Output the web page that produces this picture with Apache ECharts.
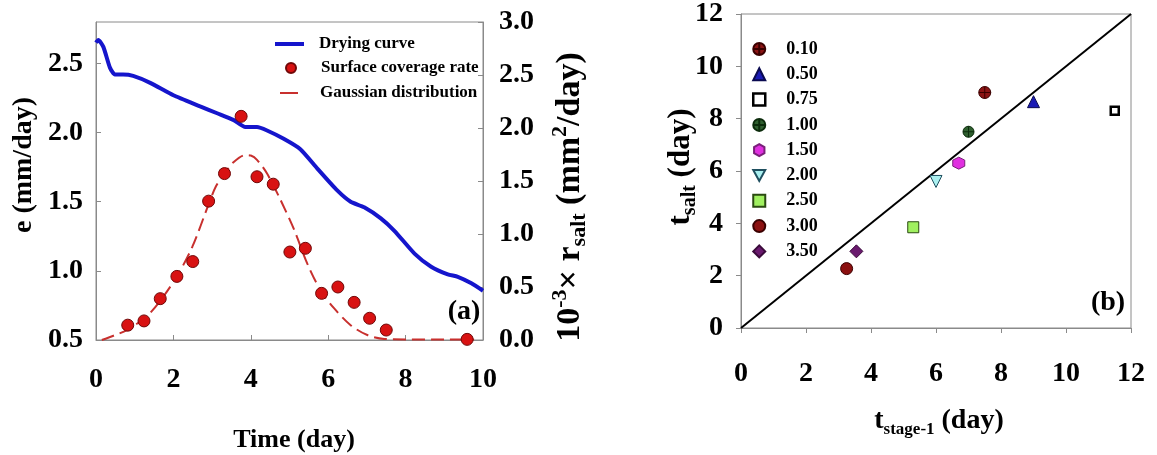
<!DOCTYPE html>
<html>
<head>
<meta charset="utf-8">
<script src="https://cdn.jsdelivr.net/npm/echarts@6/dist/echarts.min.js"></script>
<style>
  html, body { margin: 0; padding: 0; background: #fff; }
  #chart { width: 1157px; height: 455px; }
</style>
</head>
<body>
<div id="chart"></div>
<script>
// (a) Drying curve: evaporation rate e (mm/day) against time (day)
const dryTime = [0, 0.06, 0.19, 0.36, 0.49, 0.70, 0.96, 1.40, 2.00, 2.69, 3.13, 3.56, 3.86, 4.16, 4.42, 4.85, 5.28, 5.72, 6.24, 6.58, 6.93, 7.36, 7.71, 8.23, 8.66, 9.09, 9.35, 9.70, 10.0];
const dryRate = [2.65, 2.67, 2.62, 2.47, 2.42, 2.42, 2.41, 2.36, 2.27, 2.19, 2.14, 2.09, 2.04, 2.04, 2.015, 1.955, 1.88, 1.74, 1.58, 1.50, 1.46, 1.38, 1.29, 1.125, 1.03, 0.975, 0.957, 0.91, 0.856];

// (a) Surface coverage rate, 10^-3 x r_salt (mm^2/day)
const covTime = [0.82, 1.24, 1.66, 2.09, 2.50, 2.91, 3.32, 3.75, 4.16, 4.58, 5.01, 5.41, 5.83, 6.25, 6.67, 7.07, 7.50, 9.59];
const covRate = [0.14, 0.18, 0.39, 0.60, 0.74, 1.31, 1.57, 2.11, 1.54, 1.47, 0.83, 0.865, 0.44, 0.50, 0.355, 0.205, 0.094, 0.006];

// (a) Gaussian distribution fitted to the coverage rate
const gaussTime = [0.15, 0.45, 0.80, 1.30, 1.66, 2.09, 2.49, 2.91, 3.10, 3.32, 3.56, 3.86, 4.00, 4.16, 4.42, 4.77, 5.12, 5.46, 5.80, 6.15, 6.58, 7.01, 7.45, 8.00, 9.00, 9.77];
const gaussRate = [0.0, 0.04, 0.094, 0.22, 0.37, 0.60, 0.88, 1.28, 1.45, 1.57, 1.68, 1.745, 1.74, 1.70, 1.57, 1.32, 1.04, 0.72, 0.47, 0.30, 0.14, 0.047, 0.01, 0.005, 0.005, 0.005];

// (b) t_salt against t_stage-1 for each salt concentration
const concLabels = ['0.10', '0.50', '0.75', '1.00', '1.50', '2.00', '2.50', '3.00', '3.50'];
const tStage1 = [7.5, 9.0, 11.5, 7.0, 6.7, 6.0, 5.3, 3.25, 3.55];
const tSalt = [9.0, 8.65, 8.3, 7.5, 6.3, 5.6, 3.85, 2.27, 2.93];

// (b) 1:1 reference line
const diagX = [0, 12];
const diagY = [0, 12];

const FONT = '"Liberation Serif", "Times New Roman", serif';
const AXIS_GREY = '#8a8a8a';

const circleCross = 'path://M0,-10 A10,10 0 1,1 0,10 A10,10 0 1,1 0,-10 Z M-10,0 L10,0 M0,-10 L0,10';
const hexagon = 'path://M0,-10 L8.66,-5 L8.66,5 L0,10 L-8.66,5 L-8.66,-5 Z';
const downTriangle = 'path://M-10,-9 L10,-9 L0,9 Z';

const markerStyles = [
  { symbol: circleCross, size: 12, color: '#8b1414', border: '#3a0000', bw: 1 },
  { symbol: 'triangle', size: 12, color: '#1a1ab4', border: '#0a0a50', bw: 1 },
  { symbol: 'rect', size: 8, color: '#ffffff', border: '#000000', bw: 2.5 },
  { symbol: circleCross, size: 11, color: '#2f5f2f', border: '#0b2b0b', bw: 1 },
  { symbol: hexagon, size: 12, color: '#e030e0', border: '#7a207a', bw: 1 },
  { symbol: downTriangle, size: 12, color: '#aaf0f0', border: '#1f4f5f', bw: 1 },
  { symbol: 'rect', size: 11, color: '#a0f060', border: '#2a4a10', bw: 1 },
  { symbol: 'circle', size: 12, color: '#8b1010', border: '#3a0000', bw: 1 },
  { symbol: 'diamond', size: 13, color: '#6a1a6e', border: '#3a0a3a', bw: 1 }
];

function zip(xs, ys) { return xs.map((x, i) => [x, ys[i]]); }

const tickLabel = (margin) => ({
  margin: margin, fontSize: 28, fontWeight: 'bold', fontFamily: FONT, color: '#000'
});

const rightSeries = concLabels.map((name, i) => ({
  name: name,
  type: 'scatter',
  xAxisIndex: 1,
  yAxisIndex: 2,
  data: [[tStage1[i], tSalt[i]]],
  symbol: markerStyles[i].symbol,
  symbolSize: markerStyles[i].size,
  itemStyle: { color: markerStyles[i].color, borderColor: markerStyles[i].border, borderWidth: markerStyles[i].bw, opacity: 1 },
  z: 4
}));

// Legend entries; the hollow square gets a smaller icon like its marker
const rightLegendData = concLabels.map((name, i) =>
  markerStyles[i].symbol === 'rect' && markerStyles[i].color === '#ffffff'
    ? { name: name, icon: 'path://M-7,-7 H7 V7 H-7 Z M-7,-7 Z', itemStyle: { borderWidth: 2.5 } }
    : name
);

function richSet(main, small) {
  return {
    n: { fontSize: main, fontWeight: 'bold', fontFamily: FONT, fill: '#000', lineHeight: Math.round(main * 1.2), verticalAlign: 'middle' },
    sub: { fontSize: small, fontWeight: 'bold', fontFamily: FONT, fill: '#000', lineHeight: Math.round(small * 0.85), verticalAlign: 'bottom' },
    sup: { fontSize: small, fontWeight: 'bold', fontFamily: FONT, fill: '#000', lineHeight: Math.round(small * 0.95), verticalAlign: 'top' }
  };
}

function label(x, y, text, main, small, rotation) {
  return {
    type: 'text', x: x, y: y, rotation: rotation || 0,
    style: {
      text: text, rich: richSet(main, small), align: 'center', verticalAlign: 'middle',
      fontSize: main, fontWeight: 'bold', fontFamily: FONT, fill: '#000'
    }
  };
}

const legendText = (pad, size) => ({
  fontSize: size, fontWeight: 'bold', fontFamily: FONT, color: '#000', padding: [0, 0, 0, pad], lineHeight: 18
});

const chart = echarts.init(document.getElementById('chart'), null, { renderer: 'canvas' });

chart.setOption({
  animation: false,
  backgroundColor: '#fff',
  grid: [
    { left: 96, top: 22, width: 387, height: 318, show: true, borderColor: AXIS_GREY, borderWidth: 1 },
    { left: 741, top: 11, width: 390, height: 317, show: true, borderColor: AXIS_GREY, borderWidth: 1 }
  ],
  xAxis: [
    {
      gridIndex: 0, type: 'value', min: 0, max: 10, interval: 2,
      axisLine: { show: true, lineStyle: { color: AXIS_GREY } },
      axisTick: { inside: true, length: 5, lineStyle: { color: AXIS_GREY } },
      axisLabel: tickLabel(26),
      splitLine: { show: false }
    },
    {
      gridIndex: 1, type: 'value', min: 0, max: 12, interval: 2,
      axisLine: { show: true, lineStyle: { color: AXIS_GREY } },
      axisTick: { inside: false, length: 5, lineStyle: { color: AXIS_GREY } },
      axisLabel: tickLabel(32),
      splitLine: { show: false }
    }
  ],
  yAxis: [
    {
      gridIndex: 0, type: 'value', min: 0.5, max: 2.8, interval: 0.5,
      axisLine: { show: true, lineStyle: { color: AXIS_GREY } },
      axisTick: { inside: true, length: 5, lineStyle: { color: AXIS_GREY } },
      axisLabel: Object.assign(tickLabel(13), { showMaxLabel: false, formatter: v => v.toFixed(1) }),
      splitLine: { show: false }
    },
    {
      gridIndex: 0, type: 'value', position: 'right', min: 0, max: 3, interval: 0.5,
      axisLine: { show: true, lineStyle: { color: AXIS_GREY } },
      axisTick: { inside: true, length: 5, lineStyle: { color: AXIS_GREY } },
      axisLabel: Object.assign(tickLabel(16), { formatter: v => v.toFixed(1) }),
      splitLine: { show: false }
    },
    {
      gridIndex: 1, type: 'value', min: 0, max: 12, interval: 2,
      axisLine: { show: true, lineStyle: { color: AXIS_GREY } },
      axisTick: { inside: false, length: 5, lineStyle: { color: AXIS_GREY } },
      axisLabel: tickLabel(18),
      splitLine: { show: false }
    }
  ],
  legend: [
    {
      data: [{ name: 'Drying curve', icon: 'rect' }], left: 270, top: 30,
      itemWidth: 29, itemHeight: 4, textStyle: legendText(10, 17)
    },
    {
      data: ['Surface coverage rate'], left: 280, top: 54,
      itemWidth: 10, itemHeight: 10, textStyle: legendText(20, 17)
    },
    {
      data: [{ name: 'Gaussian distribution', icon: 'rect' }], left: 275, top: 79,
      itemWidth: 18, itemHeight: 2, textStyle: legendText(17, 17)
    },
    {
      data: rightLegendData, orient: 'vertical', left: 747, top: 35,
      itemWidth: 12, itemHeight: 12, itemGap: 7.3, textStyle: legendText(16, 18)
    }
  ],
  series: [
    {
      name: 'Drying curve', type: 'line', xAxisIndex: 0, yAxisIndex: 0,
      data: zip(dryTime, dryRate), symbol: 'none', smooth: 0.2,
      lineStyle: { color: '#1515cc', width: 4 }, itemStyle: { color: '#1515cc' }, z: 3
    },
    {
      name: 'Surface coverage rate', type: 'scatter', xAxisIndex: 0, yAxisIndex: 1,
      data: zip(covTime, covRate), symbol: 'circle', symbolSize: 12,
      itemStyle: { color: '#d81212', borderColor: '#700808', borderWidth: 1, opacity: 1 }, z: 4
    },
    {
      name: 'Gaussian distribution', type: 'line', xAxisIndex: 0, yAxisIndex: 1,
      data: zip(gaussTime, gaussRate), symbol: 'none', smooth: 0.3,
      lineStyle: { color: '#c8302e', width: 2, type: [13, 6] }, itemStyle: { color: '#c8302e' }, z: 3
    },
    {
      name: '1:1', type: 'line', xAxisIndex: 1, yAxisIndex: 2,
      data: zip(diagX, diagY), symbol: 'none',
      lineStyle: { color: '#000', width: 2 }, z: 2, silent: true
    }
  ].concat(rightSeries),
  graphic: [
    label(24, 165, '{n|e (mm/day)}', 28, 17, Math.PI / 2),
    label(570, 197, '{n|10}{sup|-3}{n|× r}{sub|salt}{n| (mm}{sup|2}{n|/day)}', 34, 22, Math.PI / 2),
    label(294, 440, '{n|Time (day)}', 26, 16),
    label(464, 312, '{n|(a)}', 28, 17),
    label(681, 167, '{n|t}{sub|salt}{n| (day)}', 31, 20, Math.PI / 2),
    label(939, 421, '{n|t}{sub|stage-1}{n| (day)}', 28, 17),
    label(1108, 303, '{n|(b)}', 28, 17)
  ]
});
</script>
</body>
</html>
